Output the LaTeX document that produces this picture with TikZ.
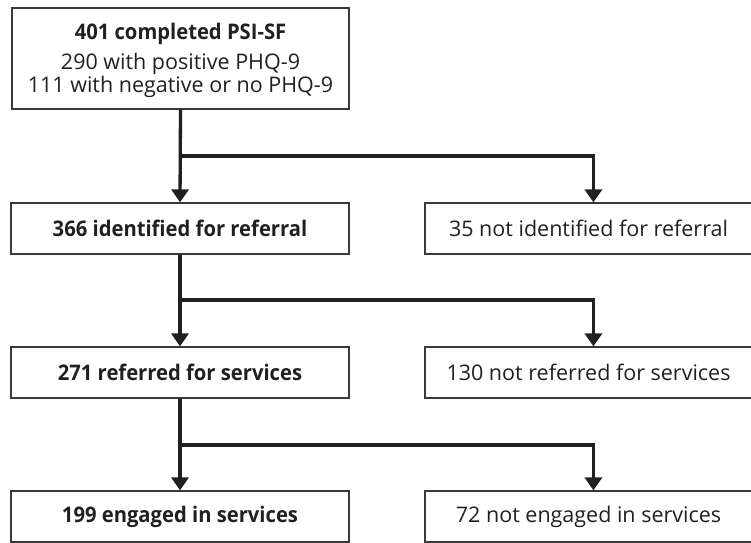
\documentclass[tikz,border=0pt]{standalone}
\usepackage{fontspec}
\setmainfont{Open Sans}
\newfontfamily\headfont{Open Sans}[FakeStretch=0.94]
\usetikzlibrary{arrows.meta}
\definecolor{ink}{HTML}{231F20}
\definecolor{frame}{HTML}{3A3A3A}
\begin{document}
\begin{tikzpicture}[x=1pt,y=-1pt,
  box/.style={draw=frame, line width=1.2pt, rectangle, inner sep=0pt,
    text=ink, font=\fontsize{21.5}{23}\selectfont},
  leftbox/.style={box, minimum width=338pt, minimum height=51pt,
    font=\fontsize{21.5}{23}\selectfont\headfont\bfseries},
  rightbox/.style={box, minimum width=327pt, minimum height=51pt},
  flow/.style={draw=ink, line width=3.3pt, line join=miter},
  arr/.style={flow, -{Triangle[length=13pt,width=17pt]}}]
\useasboundingbox (0,0) rectangle (751,542);
\clip (0,0) rectangle (751,542);

% boxes
\node[box, minimum width=337pt, minimum height=101pt, align=center] (top) at (180.5,58.5)
  {\rule{0pt}{20.5pt}{\headfont\bfseries 401 completed PSI-SF}\\[7pt]290 with positive PHQ-9\\111 with negative or no PHQ-9};
\node[leftbox] (id) at (180,228.5) {366 identified for referral};
\node[rightbox] (notid) at (588.5,228.5) {35 not identified for referral};
\node[leftbox] (ref) at (180,372.5) {271 referred for services};
\node[rightbox] (notref) at (588.5,372.5) {130 not referred for services};
\node[leftbox] (eng) at (180,516.5) {199 engaged in services};
\node[rightbox] (noteng) at (588.5,516.5) {72 not engaged in services};

% branch points on the trunk
\coordinate (b1) at (180,156);
\coordinate (b2) at (180,300);
\coordinate (b3) at (180,445);

% connectors
\draw[arr] (top.south) -- (id.north);
\draw[arr] (b1) -| ([xshift=169pt]notid.north west);
\draw[arr] (id.south) -- (ref.north);
\draw[arr] (b2) -| ([xshift=169pt]notref.north west);
\draw[arr] (ref.south) -- (eng.north);
\draw[arr] (b3) -| ([xshift=169pt]noteng.north west);
\end{tikzpicture}
\end{document}
